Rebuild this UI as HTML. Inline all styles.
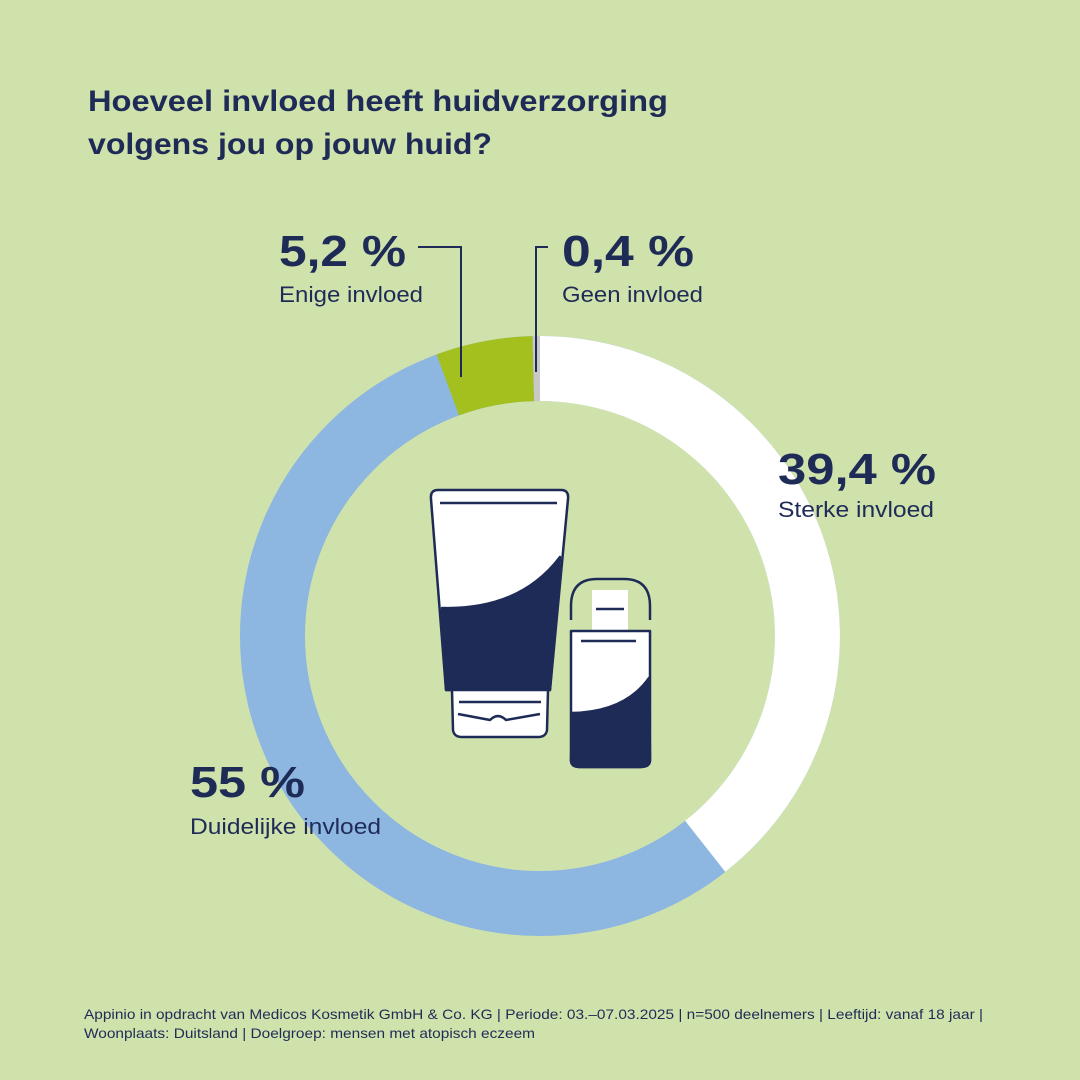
<!DOCTYPE html>
<html><head><meta charset="utf-8"><style>
html,body{margin:0;padding:0;background:#d0e2ab;}
svg{display:block;}
text{font-family:"Liberation Sans",sans-serif;fill:#1f2b57;}
</style></head><body>
<svg width="1080" height="1080" viewBox="0 0 1080 1080" xmlns="http://www.w3.org/2000/svg">
<rect width="1080" height="1080" fill="#d0e2ab"/>
<text x="88" y="111" font-size="30" font-weight="bold" textLength="580" lengthAdjust="spacingAndGlyphs">Hoeveel invloed heeft huidverzorging</text>
<text x="88" y="154" font-size="30" font-weight="bold" textLength="404" lengthAdjust="spacingAndGlyphs">volgens jou op jouw huid?</text>

<g fill="none" stroke-width="65">
<circle cx="540" cy="636" r="267.5" stroke="#8db6e1"/>
</g>
<path d="M540 336 A300 300 0 0 1 725.3 871.9 L685.1 820.8 A235 235 0 0 0 540 401 Z" fill="#ffffff"/>
<path d="M436.6 354.4 A300 300 0 0 1 532.5 336.1 L534.1 401.1 A235 235 0 0 0 459 415.4 Z" fill="#a3c01f"/>
<path d="M532.5 336.1 A300 300 0 0 1 540 336 L540 401 A235 235 0 0 0 534.1 401.1 Z" fill="#c8c8c8"/>

<polyline points="418,247 461,247 461,377" fill="none" stroke="#1f2b57" stroke-width="2"/>
<polyline points="548,247 536,247 536,372" fill="none" stroke="#1f2b57" stroke-width="2"/>

<text x="279" y="266" font-size="44" font-weight="bold" textLength="127" lengthAdjust="spacingAndGlyphs">5,2 %</text>
<text x="279" y="302" font-size="22" textLength="144" lengthAdjust="spacingAndGlyphs">Enige invloed</text>
<text x="562" y="266" font-size="44" font-weight="bold" textLength="132" lengthAdjust="spacingAndGlyphs">0,4 %</text>
<text x="562" y="302" font-size="22" textLength="141" lengthAdjust="spacingAndGlyphs">Geen invloed</text>
<text x="778" y="484" font-size="44" font-weight="bold" textLength="158" lengthAdjust="spacingAndGlyphs">39,4 %</text>
<text x="778" y="517" font-size="22" textLength="156" lengthAdjust="spacingAndGlyphs">Sterke invloed</text>
<text x="190" y="797" font-size="44" font-weight="bold" textLength="115" lengthAdjust="spacingAndGlyphs">55 %</text>
<text x="190" y="834" font-size="22" textLength="191" lengthAdjust="spacingAndGlyphs">Duidelijke invloed</text>

<g stroke="#1f2b57" stroke-width="2.5" stroke-linejoin="round">
<path d="M438 490 L561 490 Q569 490 568 499 L550 690 L446 690 L431 499 Q430 490 438 490 Z" fill="#fff"/>
<path d="M442 608 Q520 610 560 557 L550 690 L446 690 Z" fill="#1f2b57"/>
<path d="M452 690 L548 690 L547 730 Q546 737 538 737 L462 737 Q454 737 453 730 Z" fill="#fff"/>
<line x1="440" y1="503" x2="557" y2="503" fill="none"/>
<line x1="459" y1="702" x2="541" y2="702" fill="none"/>
<path d="M458 714 L490 720 Q498 712 506 720 L540 714" fill="none"/>
<path d="M571 620 L571 606 Q571 579 597 579 L624 579 Q650 579 650 606 L650 620" fill="none"/>
<path d="M592 590 L628 590 L628 630 L592 630 Z" fill="#fff" stroke="none"/>
<line x1="596" y1="609" x2="624" y2="609"/>
<path d="M571 631 L650 631 L650 760 Q650 767 640 767 L580 767 Q571 767 571 760 Z" fill="#fff"/>
<path d="M572 713 Q625 712 649 678 L650 760 Q650 767 640 767 L580 767 Q571 767 571 760 Z" fill="#1f2b57"/>
<line x1="581" y1="641" x2="636" y2="641"/>
</g>

<text x="84" y="1019" font-size="14" textLength="899" lengthAdjust="spacingAndGlyphs">Appinio in opdracht van Medicos Kosmetik GmbH &amp; Co. KG | Periode: 03.–07.03.2025 | n=500 deelnemers | Leeftijd: vanaf 18 jaar |</text>
<text x="84" y="1038" font-size="14" textLength="451" lengthAdjust="spacingAndGlyphs">Woonplaats: Duitsland | Doelgroep: mensen met atopisch eczeem</text>
</svg>
</body></html>
